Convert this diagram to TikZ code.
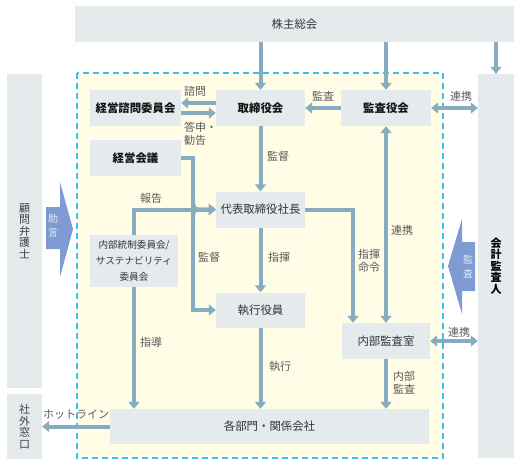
\documentclass[tikz,border=0pt]{standalone}
\usepackage{fontspec}
\setmainfont{Noto Sans CJK JP}
\usetikzlibrary{arrows.meta}
\definecolor{boxgray}{RGB}{229,234,237}
\definecolor{linkblue}{RGB}{134,172,191}
\definecolor{dashblue}{RGB}{60,190,240}
\definecolor{paleyellow}{RGB}{255,253,230}
\definecolor{adviceblue}{RGB}{127,155,212}
\definecolor{labelgray}{RGB}{90,90,90}
\begin{document}
\begin{tikzpicture}[x=1pt, y=-1pt,
    box/.style={fill=boxgray, inner sep=0pt, text=black!80, align=center, font=\fontsize{11.4}{13}\selectfont},
    headbox/.style={box, text=black!92, font=\fontsize{11.4}{13}\selectfont\bfseries},
    vertbox/.style={box, font=\fontsize{11}{11.5}\selectfont},
    link/.style={draw=linkblue, line width=4pt, -{Triangle[width=11pt,length=7pt]}},
    bothlink/.style={link, {Triangle[width=11pt,length=7pt]}-{Triangle[width=11pt,length=7pt]}},
    lbl/.style={text=labelgray, inner sep=0pt, align=left, font=\fontsize{11}{13}\selectfont}]
    %\draw[lightgray] (0, 0) grid[step=50] (519, 464);
    \useasboundingbox (0,0) rectangle (519,464);
    \draw[dashblue, fill=paleyellow, line width=1.6pt, dash pattern=on 6pt off 4pt] (77,73) rectangle (443,458);

    \node[box, minimum width=439pt, minimum height=36pt] (shareholders) at (294.5,24) {株主総会};
    \node[vertbox, text=black!75, minimum width=35pt, minimum height=314pt] (lawyer) at (24.5,231) {顧\\問\\弁\\護\\士};
    \node[vertbox, text=black!75, minimum width=35pt, minimum height=65pt] (outside) at (24.5,426.5) {社\\外\\窓\\口};
    \node[vertbox, text=black, font=\fontsize{11}{11.5}\selectfont\bfseries, minimum width=36pt, minimum height=384pt] (auditor) at (496,266) {会\\計\\監\\査\\人};

    \node[headbox, minimum width=91pt, minimum height=36pt] (advisory) at (135.5,108) {経営諮問委員会};
    \node[headbox, minimum width=89pt, minimum height=36pt] (board) at (260.5,108) {取締役会};
    \node[headbox, minimum width=90pt, minimum height=36pt] (kansa board) at (386,108) {監査役会};
    \node[headbox, minimum width=91pt, minimum height=36pt] (management) at (135.5,158) {経営会議};
    \node[box, minimum width=89pt, minimum height=36pt] (president) at (260.5,209.5) {代表取締役社長};
    \node[box, minimum width=88pt, minimum height=52pt, font=\fontsize{9.6}{16}\selectfont] (internal control) at (134,261) {内部統制委員会/\\サステナビリティ\\委員会};
    \node[box, minimum width=89pt, minimum height=35pt] (officers) at (260.5,310) {執行役員};
    \node[box, minimum width=88pt, minimum height=36pt] (audit office) at (386,341) {内部監査室};
    \node[box, minimum width=319pt, minimum height=35pt] (divisions) at (269.5,426.5) {各部門・関係会社};

    \fill[adviceblue] (46,207) -- (60,207) -- (60,182) -- (73,229) -- (60,277) -- (60,249) -- (46,249) -- cycle;
    \node[text=white!78!adviceblue, align=center, font=\fontsize{10}{14}\selectfont] (advice) at (53,226) {助\\言};
    \fill[adviceblue] (475,242) -- (462,242) -- (462,219) -- (448,266) -- (462,314) -- (462,291) -- (475,291) -- cycle;
    \node[text=white!78!adviceblue, align=center, font=\fontsize{10}{14}\selectfont] (check) at (468,267) {監\\査};

    \draw[link] (shareholders.south -| board.north) -- (board.north);
    \draw[link] (shareholders.south -| kansa board.north) -- (kansa board.north);
    \draw[link] (shareholders.south -| auditor.north) -- (auditor.north);
    \draw[link] ([yshift=5pt]board.west) -- ([yshift=5pt]advisory.east);
    \draw[link] ([yshift=-5pt]advisory.east) -- ([yshift=-5pt]board.west);
    \draw[link] (kansa board.west) -- (board.east);
    \draw[bothlink] (kansa board.east) -- (kansa board.east -| auditor.west);
    \draw[link] (board.south) -- (president.north);
    \coordinate (branch) at (193,209.5);
    \draw[link] (management.east) -| (branch) |- (officers.west);
    \draw[link, rounded corners=5pt] ([yshift=13pt]branch) |- (president.west);
    \draw[link, rounded corners=5pt] ([yshift=-13pt]branch) |- (president.west);
    \draw[link] (internal control.north) |- (president.west);
    \draw[link] (president.south) -- (officers.north);
    \draw[link] (president.east) -| ([xshift=-33pt]audit office.north);
    \draw[bothlink] (kansa board.south) -- (audit office.north);
    \draw[bothlink] (audit office.east) -- (audit office.east -| auditor.west);
    \draw[link] (internal control.south) -- (internal control.south |- divisions.north);
    \draw[link] (officers.south) -- (officers.south |- divisions.north);
    \draw[link] (audit office.south) -- (audit office.south |- divisions.north);
    \draw[link] (divisions.west) -- (divisions.west -| outside.east);

    \node[lbl, anchor=west] (consult) at (184,91) {諮問};
    \node[lbl, anchor=north west] (report back) at (184,122) {答申・\\勧告};
    \node[lbl] (audit a) at (323,96) {監査};
    \node[lbl] (coop a) at (461,96) {連携};
    \node[lbl, anchor=west] (supervise a) at (267,156) {監督};
    \node[lbl] (report) at (151,198) {報告};
    \node[lbl] (supervise b) at (209,257) {監督};
    \node[lbl] (command) at (279,257) {指揮};
    \node[lbl] (order) at (369,261) {指揮\\命令};
    \node[lbl] (coop b) at (402,230) {連携};
    \node[lbl] (coop c) at (459,332) {連携};
    \node[lbl] (guide) at (151,342) {指導};
    \node[lbl] (execute) at (280,366) {執行};
    \node[lbl] (internal audit) at (404,383) {内部\\監査};
    \node[lbl] (hotline) at (76,415) {ホットライン};
\end{tikzpicture}
\end{document}
